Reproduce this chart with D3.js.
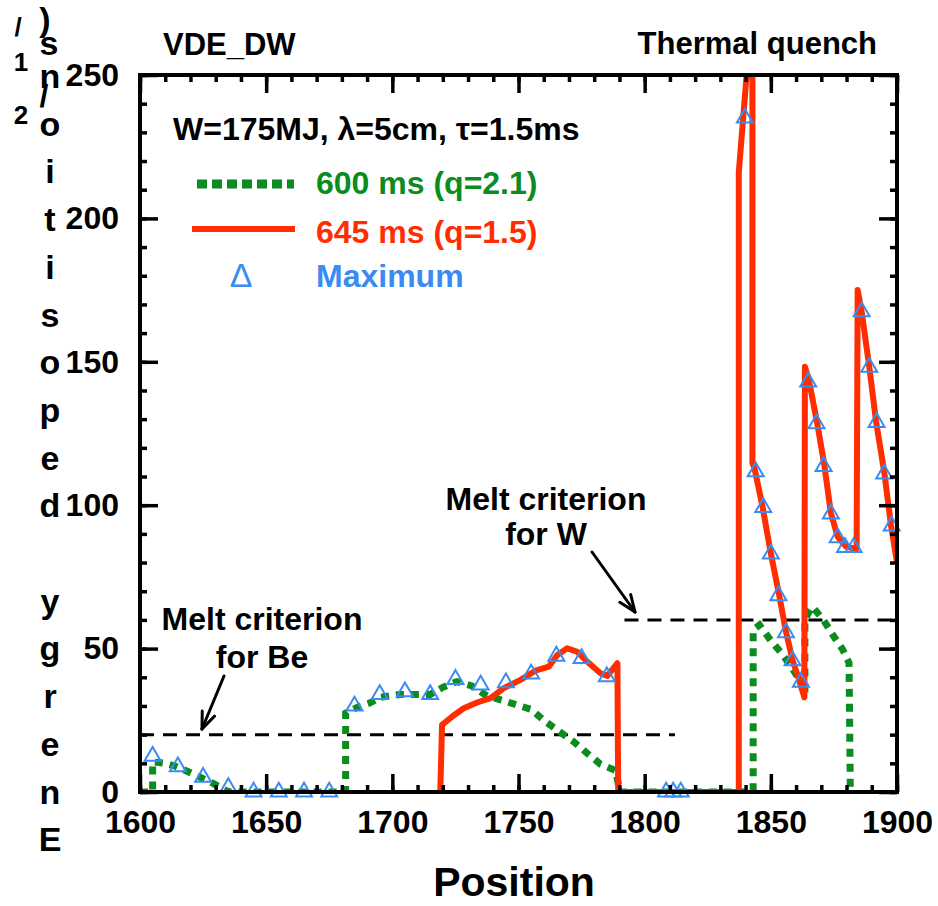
<!DOCTYPE html>
<html>
<head>
<meta charset="utf-8">
<script src="https://cdn.jsdelivr.net/npm/d3@7"></script>
<style>
  html, body { margin: 0; padding: 0; background: #fff; }
  svg { display: block; }
  text { font-family: "Liberation Sans", Arial, Helvetica, sans-serif; font-weight: bold; }
</style>
</head>
<body>
<svg id="chart" width="938" height="906"></svg>
<script>
// ---------------- data ----------------
const xTickLabels = [1600, 1650, 1700, 1750, 1800, 1850, 1900];
const yTickLabels = [0, 50, 100, 150, 200, 250];
const xMinorTicks = d3.range(1600, 1901, 10);
const yMinorTicks = d3.range(0, 251, 10);

// 600 ms (q=2.1) — green dotted
const series600x = [1600,1605,1605,1610,1614,1618,1623,1629,1634,1636,1681.5,1681.5,1686,1691,1695,1703,1709,1715,1720,1725.5,1731.5,1737.5,1743.5,1749.5,1755,1760,1765.5,1771.5,1777.5,1782.5,1788.5,1789.5,1790,1843,1843,1845.5,1850,1854.6,1858.6,1862,1863.5,1863.5,1865.2,1866.5,1871,1875,1878.4,1881,1881.5];
const series600y = [0,0,10.5,10,9,7.5,5.5,3,0.5,0,0,27.5,29.5,31,33,34,34,34,36.5,38.5,37,33.5,32,30.3,28.8,25,21.5,17.8,13.3,9.7,7.5,3,0,0,56.5,58.2,52.8,48,43,38,37,60,62.9,64.6,59.8,54.2,49.8,45,0];

// 645 ms (q=1.5) — red solid
const series645x = [1719,1719.7,1724,1728.3,1733.6,1738.9,1744.2,1750.8,1756.7,1762,1765.4,1769.3,1773.3,1777.3,1782.5,1785.2,1789.2,1789.5,1837.3,1837.3,1841.5,1842.7,1842.7,1843.5,1846.7,1850,1853.3,1856,1858.6,1861.2,1862.6,1863.3,1863.5,1865.2,1868.5,1871.2,1873.8,1876.5,1879.8,1882.4,1884,1884.4,1886,1889,1891.7,1895,1897.6,1900];
const series645y = [0,23.4,26.5,29.2,31.2,32.7,36.2,39.1,42.3,43.7,47.8,50.1,48.9,45.4,41.4,40.5,44.9,0,0,216,262,262,114.6,113,99.5,83.2,68.7,55.9,46,39.1,35,33,148.3,143.1,128,114,97.2,89,85.6,85,85,175,167.5,148.3,129.2,111.2,93.1,80];

// Maximum — blue open triangles
const maxX = [1605,1615,1625,1635,1645,1655,1665,1675,1685,1695,1705,1715,1725,1735,1745,1755,1765,1775,1785,1808.5,1811.3,1814.3,1839.7,1844,1847,1850,1853,1856,1858.6,1861.9,1864.8,1868.1,1870.9,1873.8,1876.5,1879.4,1882.8,1886,1889,1891.9,1894.9,1897.9];
const maxY = [12.5,8.8,5.2,1.6,0,0,0,0,30,34,35,34,39.3,37.3,38.1,41.2,47.4,46.6,40.2,0,0,0,235,111.7,99.2,83,68.5,55.6,45.8,38.3,143,128.4,113.5,97,88.7,85.3,85.3,167.5,148.1,128.9,110.9,92.8];

// melt criteria (dashed lines)
const beCriterion = { value: 20, from: 1600, to: 1812 };
const wCriterion = { value: 60, from: 1792, to: 1900 };

const colGreen = "#0a8c1e", colRed = "#ff2d00", colBlue = "#3a8bf2";

// ---------------- layout ----------------
const svg = d3.select("#chart");
const L = 140, R = 897, T = 75, B = 792;
const x = d3.scaleLinear().domain([1600, 1900]).range([L, R]);
const y = d3.scaleLinear().domain([0, 250]).range([B, T]);

svg.append("defs").append("clipPath").attr("id", "clip")
  .append("rect").attr("x", L).attr("y", T).attr("width", R - L).attr("height", B - T);

const plot = svg.append("g").attr("clip-path", "url(#clip)");

// dashed criteria
[beCriterion, wCriterion].forEach(c => {
  plot.append("line")
    .attr("x1", x(c.from)).attr("x2", x(c.to))
    .attr("y1", y(c.value)).attr("y2", y(c.value))
    .attr("stroke", "#000").attr("stroke-width", 3)
    .attr("stroke-dasharray", "14,9");
});

const line = d3.line().x(d => x(d[0])).y(d => y(d[1]));

const d600 = series600x.map((v, i) => [v, series600y[i]]);
const d645 = series645x.map((v, i) => [v, series645y[i]]);

plot.append("path").datum(d600).attr("d", line)
  .attr("fill", "none").attr("stroke", colGreen).attr("stroke-width", 7)
  .attr("stroke-dasharray", "8,7");

plot.append("path").datum(d645).attr("d", line)
  .attr("fill", "none").attr("stroke", colRed).attr("stroke-width", 6)
  .attr("stroke-linejoin", "round");

const tri = d3.symbol().type(d3.symbolTriangle).size(110);
svg.append("g").selectAll("path").data(maxX.map((v, i) => [v, maxY[i]])).join("path")
  .attr("d", tri)
  .attr("transform", d => `translate(${x(d[0])},${y(d[1])})`)
  .attr("fill", "none").attr("stroke", colBlue).attr("stroke-width", 2);

// ---------------- axes ----------------
function styleAxis(g) {
  g.select(".domain").remove();
  g.selectAll(".tick line").attr("stroke", "#000").attr("stroke-width", 3.5);
  g.selectAll(".tick text").attr("fill", "#000").style("font-size", "32px")
    .style("font-family", '"Liberation Sans", Arial, sans-serif').style("font-weight", "bold");
}
const fmt = d3.format("d");

// bottom
svg.append("g").attr("transform", `translate(0,${B})`)
  .call(d3.axisBottom(x).tickValues(xMinorTicks).tickSize(-7).tickFormat(""))
  .call(styleAxis);
svg.append("g").attr("transform", `translate(0,${B})`)
  .call(d3.axisBottom(x).tickValues(xTickLabels).tickSize(-18).tickPadding(18).tickFormat(fmt))
  .call(styleAxis);
// top
svg.append("g").attr("transform", `translate(0,${T})`)
  .call(d3.axisTop(x).tickValues(xMinorTicks).tickSize(-7).tickFormat(""))
  .call(styleAxis);
svg.append("g").attr("transform", `translate(0,${T})`)
  .call(d3.axisTop(x).tickValues(xTickLabels).tickSize(-18).tickFormat(""))
  .call(styleAxis);
// left
svg.append("g").attr("transform", `translate(${L},0)`)
  .call(d3.axisLeft(y).tickValues(yMinorTicks).tickSize(-7).tickFormat(""))
  .call(styleAxis);
svg.append("g").attr("transform", `translate(${L},0)`)
  .call(d3.axisLeft(y).tickValues(yTickLabels).tickSize(-18).tickPadding(21).tickFormat(fmt))
  .call(styleAxis);
// right
svg.append("g").attr("transform", `translate(${R},0)`)
  .call(d3.axisRight(y).tickValues(yMinorTicks).tickSize(-7).tickFormat(""))
  .call(styleAxis);
svg.append("g").attr("transform", `translate(${R},0)`)
  .call(d3.axisRight(y).tickValues(yTickLabels).tickSize(-18).tickFormat(""))
  .call(styleAxis);

// frame
svg.append("rect").attr("x", L).attr("y", T).attr("width", R - L).attr("height", B - T)
  .attr("fill", "none").attr("stroke", "#000").attr("stroke-width", 4);

// ---------------- texts ----------------
svg.append("text").attr("x", 514).attr("y", 896).attr("text-anchor", "middle")
  .style("font-size", "41px").text("Position");

svg.append("text").attr("x", 163).attr("y", 55).style("font-size", "31px").text("VDE_DW");
svg.append("text").attr("x", 877).attr("y", 54).attr("text-anchor", "end")
  .style("font-size", "31px").text("Thermal quench");

// y-axis label: characters stacked bottom-to-top
const yLabel = "Energy deposition";
const gy = svg.append("g");
yLabel.split("").forEach((ch, i) => {
  if (ch === " ") return;
  gy.append("text").attr("x", 50).attr("y", 851.2 - i * 47.7)
    .attr("text-anchor", "middle").style("font-size", "34px").text(ch);
});
[[")", 45, 31, 34], ["s", 49, 55, 34], ["/", 44, 107, 32],
 ["/", 18, 36, 26], ["1", 21, 71, 26], ["2", 21, 124, 26]].forEach(([ch, cx, cy, fs]) => {
  gy.append("text").attr("x", cx).attr("y", cy).attr("text-anchor", "middle")
    .style("font-size", fs + "px").text(ch);
});

// legend
svg.append("text").attr("x", 173).attr("y", 140).style("font-size", "32px")
  .text("W=175MJ, λ=5cm, τ=1.5ms");
svg.append("line").attr("x1", 197).attr("x2", 294).attr("y1", 184).attr("y2", 184)
  .attr("stroke", colGreen).attr("stroke-width", 9).attr("stroke-dasharray", "10,5");
svg.append("text").attr("x", 316).attr("y", 194).attr("fill", colGreen)
  .style("font-size", "32px").text("600 ms (q=2.1)");
svg.append("line").attr("x1", 192).attr("x2", 295).attr("y1", 229).attr("y2", 229)
  .attr("stroke", colRed).attr("stroke-width", 6);
svg.append("text").attr("x", 316).attr("y", 243).attr("fill", colRed)
  .style("font-size", "32px").text("645 ms (q=1.5)");
svg.append("text").attr("x", 241).attr("y", 287).attr("text-anchor", "middle").attr("fill", colBlue)
  .style("font-size", "34px").style("font-weight", "normal").text("Δ");
svg.append("text").attr("x", 316).attr("y", 287).attr("fill", colBlue)
  .style("font-size", "32px").text("Maximum");

// annotations
function annot(cx, y1, y2, l2) {
  svg.append("text").attr("x", cx).attr("y", y1).attr("text-anchor", "middle")
    .style("font-size", "32px").text("Melt criterion");
  svg.append("text").attr("x", cx).attr("y", y2).attr("text-anchor", "middle")
    .style("font-size", "32px").text(l2);
}
annot(262, 630, 668, "for Be");
annot(546, 510, 545, "for W");

function arrow(x1, y1, x2, y2) {
  const g = svg.append("g").attr("stroke", "#000").attr("stroke-width", 3).attr("fill", "none")
    .attr("stroke-linecap", "round");
  g.append("line").attr("x1", x1).attr("y1", y1).attr("x2", x2).attr("y2", y2);
  const ang = Math.atan2(y2 - y1, x2 - x1), len = 18, spread = 0.38;
  [ang + Math.PI - spread, ang + Math.PI + spread].forEach(a => {
    g.append("line").attr("x1", x2).attr("y1", y2)
      .attr("x2", x2 + len * Math.cos(a)).attr("y2", y2 + len * Math.sin(a));
  });
}
arrow(224, 676, 202, 729);
arrow(592, 552, 635, 612);
</script>
</body>
</html>
